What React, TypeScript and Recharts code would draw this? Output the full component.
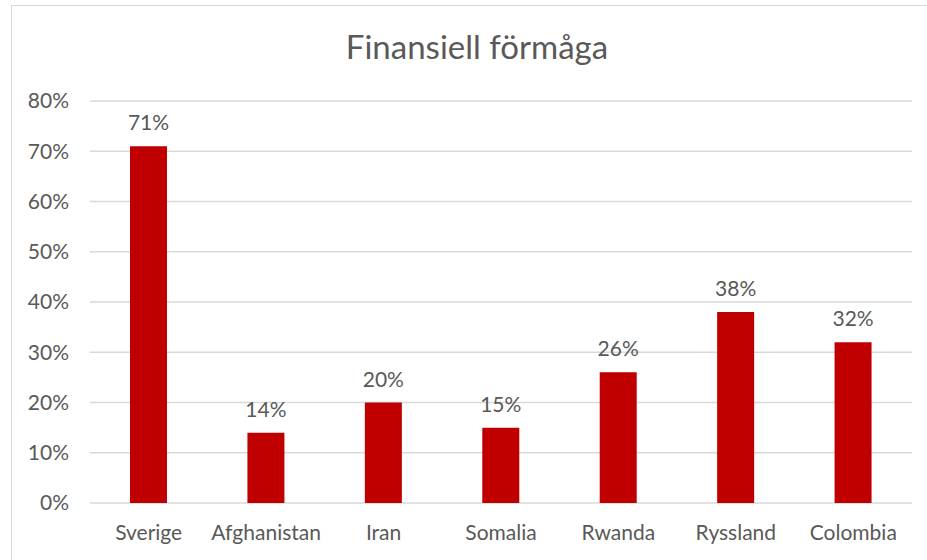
import React from "react";
import { BarChart, Bar, XAxis, YAxis, CartesianGrid, LabelList } from "recharts";

const categories = ["Sverige", "Afghanistan", "Iran", "Somalia", "Rwanda", "Ryssland", "Colombia"];
const values = [71, 14, 20, 15, 26, 38, 32];
const yTicks = [0, 10, 20, 30, 40, 50, 60, 70, 80];
const title = "Finansiell förmåga";

const data = categories.map((c, i) => ({ name: c, value: values[i] }));

const FONT = "Lato, 'Open Sans', sans-serif";
const TEXT = "#595959";

export default function App() {
  return (
    <div style={{ position: "absolute", left: 0, top: 0, width: 927, height: 560, background: "#fff", fontFamily: FONT }}>
      <div style={{ position: "absolute", left: 11, top: 5, width: 930, height: 570, borderLeft: "1.5px solid #d9d9d9", borderTop: "1.5px solid #d9d9d9" }} />
      <div style={{ position: "absolute", left: 0, top: 26, width: 954, textAlign: "center", fontSize: 33, lineHeight: "40px", color: TEXT, fontFamily: FONT }}>{title}</div>
      <div style={{ position: "absolute", left: 0, top: 0 }}>
        <BarChart width={927} height={560} data={data} margin={{ top: 101, right: 15, bottom: 17, left: 20 }}>
          <CartesianGrid vertical={false} stroke="#d9d9d9" strokeWidth={1.5} />
          <XAxis dataKey="name" axisLine={false} tickLine={false} tickSize={0} tickMargin={22} height={40} interval={0}
            tick={{ fill: TEXT, fontSize: 21, fontFamily: FONT }} />
          <YAxis domain={[0, 80]} ticks={yTicks} axisLine={false} tickLine={false} tickSize={0} tickMargin={21} width={70}
            tickFormatter={(v: number) => `${v}%`} tick={{ fill: TEXT, fontSize: 21, fontFamily: FONT }} />
          <Bar dataKey="value" fill="#C00000" barSize={37} isAnimationActive={false}>
            <LabelList dataKey="value" position="top" offset={16} formatter={(v: number) => `${v}%`}
              style={{ fill: TEXT, fontSize: 21, fontFamily: FONT }} />
          </Bar>
        </BarChart>
      </div>
    </div>
  );
}
